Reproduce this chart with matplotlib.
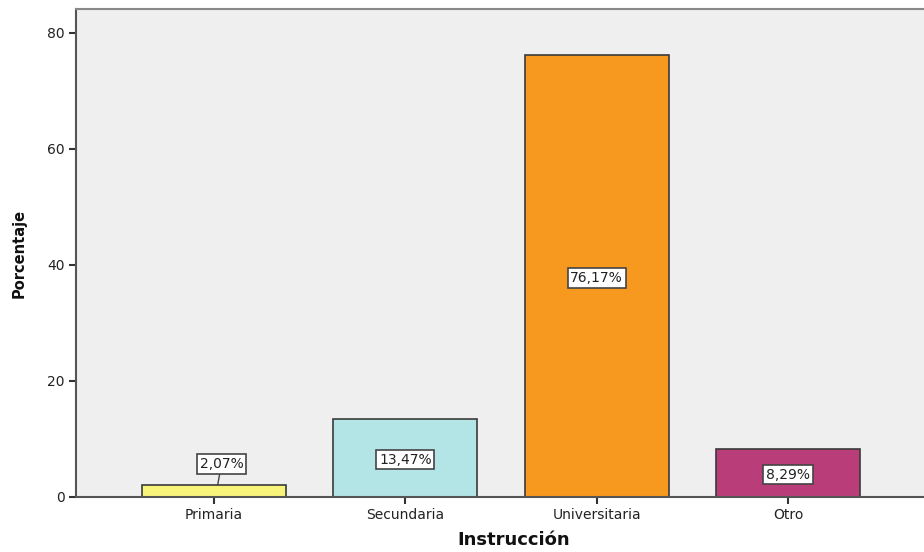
import numpy as np
import matplotlib.pyplot as plt

# Instrucción - porcentajes
categorias = ['Primaria', 'Secundaria', 'Universitaria', 'Otro']
porcentajes = [2.07, 13.47, 76.17, 8.29]
etiquetas = ['2,07%', '13,47%', '76,17%', '8,29%']
colores = ['#F8F47A', '#B4E5E6', '#F7991F', '#B93D79']

fig = plt.figure(figsize=(9.24, 5.52), dpi=100)
# axes runs just past the right edge of the figure, as in the reference
ax = fig.add_axes([76 / 924, 1 - 497 / 552, 850 / 924, 488 / 552])
ax.set_facecolor('#EFEFEF')

x = np.arange(len(categorias))
ax.bar(x, porcentajes, width=0.75, color=colores, edgecolor='#3a3a3a', linewidth=1.2, zorder=2)

ax.set_xlim(-0.72, 3.72)
ax.set_ylim(0, 84.1)
ax.set_yticks([0, 20, 40, 60, 80])
ax.set_xticks(x)
ax.set_xticklabels(categorias)
ax.tick_params(axis='both', direction='out', length=5, width=1.5, color='#333333',
               labelsize=10, labelcolor='#222222', pad=3)

for s in ['left', 'bottom', 'top', 'right']:
    ax.spines[s].set_color('#555555')
    ax.spines[s].set_linewidth(1.5)
ax.spines['top'].set_color('#888888')

caja = dict(boxstyle='square,pad=0.2', facecolor='white', edgecolor='#444444', linewidth=1.2)
for i, (v, t) in enumerate(zip(porcentajes, etiquetas)):
    if v < 5:
        # small bar: label placed above with a leader line
        ax.annotate(t, xy=(x[i] + 0.02, v), xytext=(x[i] + 0.04, 5.7),
                    ha='center', va='center', fontsize=10, color='#222222', bbox=caja,
                    arrowprops=dict(arrowstyle='-', color='#444444', lw=1.0,
                                    shrinkA=0, shrinkB=0), zorder=3)
    else:
        ax.text(x[i], v / 2 - 0.3, t, ha='center', va='center', fontsize=10,
                color='#222222', bbox=caja, zorder=3)

ax.set_ylabel('Porcentaje', fontsize=10.5, fontweight='bold', color='#111111')
ax.yaxis.set_label_coords(-0.058, 0.5)
fig.text(514 / 924, 1 - 540 / 552, 'Instrucción', ha='center', va='center',
         fontsize=13, fontweight='bold', color='#111111')

fig.savefig('out.png', dpi=100)
